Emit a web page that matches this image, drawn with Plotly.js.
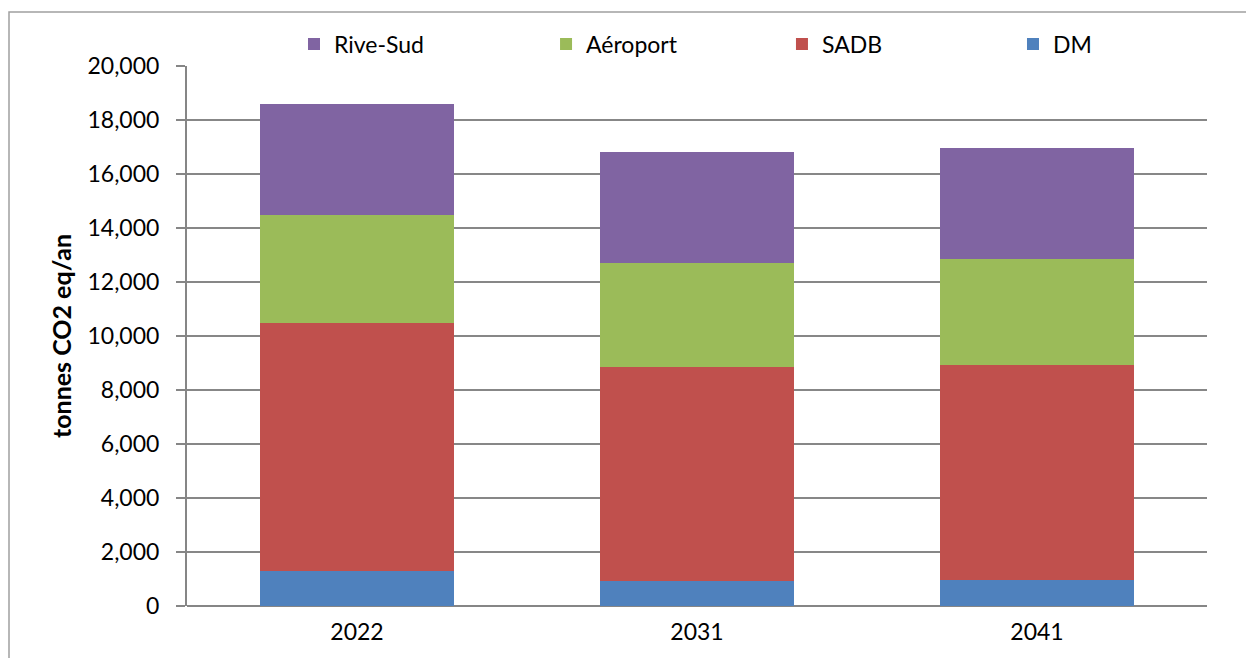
<!DOCTYPE html>
<html>
<head>
<meta charset="utf-8">
<script src="https://cdn.plot.ly/plotly-3.0.1.min.js"></script>
<style>html,body{margin:0;padding:0;background:#fff;}#chart{width:1246px;height:658px;}</style>
</head>
<body>
<div id="chart"></div>
<script>
var years = ['2022', '2031', '2041'];
var dm = [1290, 940, 950];
var sadb = [9200, 7910, 7980];
var aeroport = [3980, 3850, 3920];
var riveSud = [4120, 4110, 4120];
var yTicks = [0, 2000, 4000, 6000, 8000, 10000, 12000, 14000, 16000, 18000, 20000];
var yTickText = ['0', '2,000', '4,000', '6,000', '8,000', '10,000', '12,000', '14,000', '16,000', '18,000', '20,000'];

var seriesNames = ['DM', 'SADB', 'Aéroport', 'Rive-Sud'];
var seriesVals = [dm, sadb, aeroport, riveSud];
var seriesColors = ['#4F81BD', '#C0504D', '#9BBB59', '#8064A2'];
var legendIds = ['legend4', 'legend3', 'legend2', 'legend'];
var legendX = [0.8098, 0.5833, 0.3520, 0.1049];

var traces = seriesNames.map(function (n, i) {
  return {
    type: 'bar', name: n, x: years, y: seriesVals[i],
    legend: legendIds[i],
    marker: {color: seriesColors[i], line: {width: 0}},
    hoverinfo: 'x+y+name'
  };
});

var FONT = 'Lato, "Open Sans", sans-serif';
function mkLegend(x) {
  return {
    orientation: 'h', x: x, xanchor: 'left', y: 1.0407, yanchor: 'middle',
    itemwidth: 30,
    font: {family: FONT, size: 23, color: '#000'},
    bgcolor: 'rgba(0,0,0,0)'
  };
}

var layout = {
  width: 1246, height: 658, autosize: false,
  margin: {l: 187, r: 39, t: 66, b: 52, pad: 0},
  paper_bgcolor: '#ffffff', plot_bgcolor: '#ffffff',
  barmode: 'stack', bargap: 0.43,
  font: {family: FONT, size: 23, color: '#000'},
  showlegend: true,
  legend: mkLegend(legendX[3]),
  legend2: mkLegend(legendX[2]),
  legend3: mkLegend(legendX[1]),
  legend4: mkLegend(legendX[0]),
  xaxis: {
    type: 'category', showgrid: false, zeroline: false,
    showline: false, ticks: '', ticklabelstandoff: 10,
    tickfont: {family: FONT, size: 23, color: '#000'}
  },
  yaxis: {
    range: [0, 20000], tickvals: yTicks, ticktext: yTickText,
    showgrid: true, gridcolor: '#878787', gridwidth: 1.3,
    zeroline: true, zerolinecolor: '#868686', zerolinewidth: 2,
    showline: true, linecolor: '#868686', linewidth: 2,
    ticks: 'outside', ticklen: 9, tickcolor: '#868686', tickwidth: 1.5,
    ticklabelstandoff: 12,
    tickfont: {family: FONT, size: 23, color: '#000'},
    title: {text: 'tonnes CO2 eq/an', standoff: 9,
            font: {family: FONT, size: 25, color: '#000', weight: 'bold'}}
  },
  shapes: [{
    type: 'rect', xref: 'paper', yref: 'paper',
    x0: (9 - 187) / 1020, x1: (1260 - 187) / 1020,
    y0: (606 - 670) / 540, y1: (606 - 12) / 540,
    line: {color: '#a0a0a0', width: 1.5}, fillcolor: 'rgba(0,0,0,0)', layer: 'below'
  }]
};

Plotly.newPlot('chart', traces, layout, {staticPlot: true, displayModeBar: false});
</script>
</body>
</html>
